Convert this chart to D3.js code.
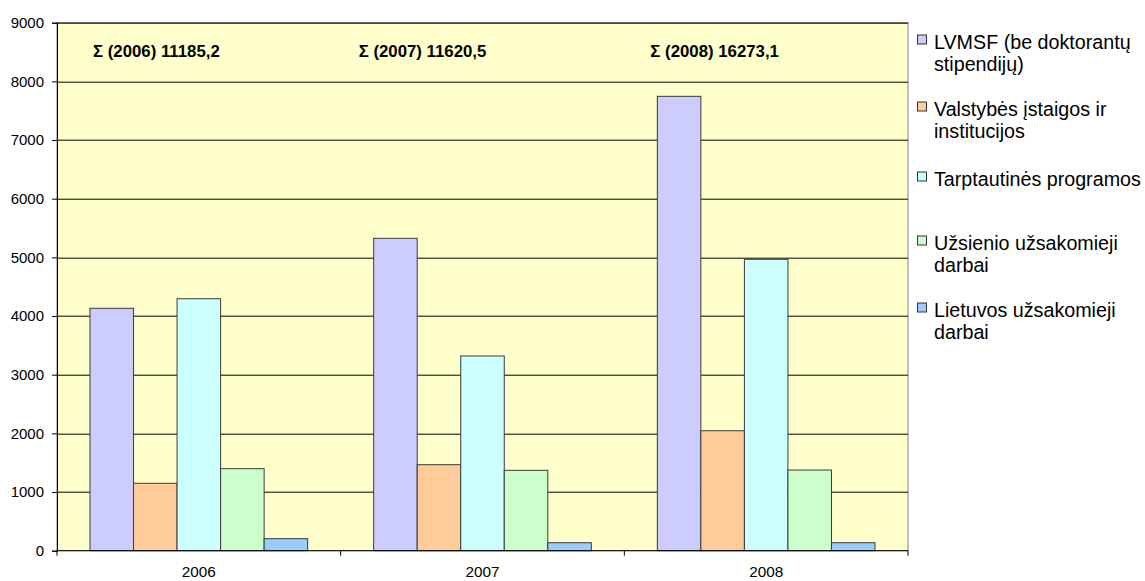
<!DOCTYPE html>
<html>
<head>
<meta charset="utf-8">
<script src="https://cdn.jsdelivr.net/npm/d3@7"></script>
<style>
  body { margin: 0; background: #fff; }
  text { font-family: Arial, "Liberation Sans", sans-serif; fill: #000; }
</style>
</head>
<body>
<div id="chart"></div>
<script>
// data
var years = ["2006", "2007", "2008"];
var seriesNames = ["LVMSF (be doktorantų stipendijų)", "Valstybės įstaigos ir institucijos",
    "Tarptautinės programos", "Užsienio užsakomieji darbai", "Lietuvos užsakomieji darbai"];
var lvmsf = [4132, 5325, 7745];
var valstybes = [1149, 1466, 2045];
var tarptautines = [4295, 3319, 4967];
var uzsienio = [1398, 1370, 1375];
var lietuvos = [205, 136, 136];
var totals = ["11185,2", "11620,5", "16273,1"];
var yTicks = [0, 1000, 2000, 3000, 4000, 5000, 6000, 7000, 8000, 9000];
var legendLines = [["LVMSF (be doktorantų", "stipendijų)"], ["Valstybės įstaigos ir", "institucijos"],
    ["Tarptautinės programos"], ["Užsienio užsakomieji", "darbai"], ["Lietuvos užsakomieji", "darbai"]];

var colors = ["#CCCCFF", "#FFCC99", "#CCFFFF", "#CCFFCC", "#99CCFF"];
var values = [lvmsf, valstybes, tarptautines, uzsienio, lietuvos];

function drawChart(){
    var margin = {top: 22.7, left: 57};
    var width = 851;
    var height = 528;

    var svg = d3.select("#chart").append("svg")
        .attr("width", 1145)
        .attr("height", 581);

    var g = svg.append("g")
        .attr("transform", "translate(" + margin.left + "," + margin.top + ")");

    var xScale = d3.scaleBand()
        .domain(years)
        .range([0, width])
        .padding(0);

    var xInner = d3.scaleBand()
        .domain(d3.range(seriesNames.length))
        .range([33, xScale.bandwidth() - 33])
        .padding(0);

    var yScale = d3.scaleLinear()
        .domain([0, 9000])
        .range([height, 0]);

    // plot background
    g.append("rect")
        .attr("width", width)
        .attr("height", height)
        .attr("fill", "#FFFFCC")
        .attr("stroke", "#808080")
        .attr("stroke-width", 1);

    // gridlines
    g.append("g").selectAll("line")
        .data(yTicks.slice(1))
        .enter().append("line")
        .attr("x1", 0)
        .attr("x2", width)
        .attr("y1", function(d){ return Math.round(yScale(d)) + 0.5; })
        .attr("y2", function(d){ return Math.round(yScale(d)) + 0.5; })
        .attr("stroke", "#000")
        .attr("stroke-width", 1);

    // bars
    var rows = [];
    years.forEach(function(y, i){
        values.forEach(function(s, j){
            rows.push({year: y, k: j, v: s[i]});
        });
    });

    g.append("g").selectAll("rect")
        .data(rows)
        .enter().append("rect")
        .attr("x", function(d){ return xScale(d.year) + xInner(d.k); })
        .attr("y", function(d){ return yScale(d.v); })
        .attr("width", xInner.bandwidth())
        .attr("height", function(d){ return height - yScale(d.v); })
        .attr("fill", function(d){ return colors[d.k]; })
        .attr("stroke", "#3a3a3a")
        .attr("stroke-width", 1);

    // y axis
    var yAxis = g.append("g")
        .call(d3.axisLeft(yScale).tickValues(yTicks).tickSize(5).tickPadding(8).tickFormat(d3.format("d")));
    yAxis.select(".domain").attr("stroke", "#000");
    yAxis.selectAll("text").style("font-size", "15px");

    // x axis with ticks at category boundaries
    var xAxis = g.append("g")
        .attr("transform", "translate(0," + height + ")");
    xAxis.append("line")
        .attr("x1", 0).attr("x2", width)
        .attr("stroke", "#000");
    xAxis.selectAll(".tk")
        .data(years.concat(["end"]))
        .enter().append("line")
        .attr("class", "tk")
        .attr("x1", function(d, i){ return i * xScale.bandwidth(); })
        .attr("x2", function(d, i){ return i * xScale.bandwidth(); })
        .attr("y1", 0).attr("y2", 5)
        .attr("stroke", "#000");
    xAxis.selectAll(".lbl")
        .data(years)
        .enter().append("text")
        .attr("class", "lbl")
        .attr("x", function(d){ return xScale(d) + xScale.bandwidth() / 2; })
        .attr("y", 26.5)
        .style("text-anchor", "middle")
        .style("font-size", "15.3px")
        .text(function(d){ return d; });

    // sum annotations
    var labelDx = [36, 18, 26];
    g.selectAll(".sum")
        .data(years)
        .enter().append("text")
        .attr("class", "sum")
        .attr("x", function(d, i){ return xScale(d) + labelDx[i]; })
        .attr("y", 34.5)
        .style("font-size", "16.8px")
        .style("font-weight", "bold")
        .text(function(d, i){ return "Σ (" + d + ") " + totals[i]; });

    // legend
    var legend = svg.append("g").attr("transform", "translate(916,0)");
    var slotTop = 48.5;
    var slotStep = 67;
    var lineH = 22.5;
    legendLines.forEach(function(lines, i){
        var base = slotTop + i * slotStep + (lines.length === 1 ? 3 : 0);
        legend.append("rect")
            .attr("x", 1.5)
            .attr("y", base - 13.5)
            .attr("width", 9)
            .attr("height", 9)
            .attr("fill", colors[i])
            .attr("stroke", "#333")
            .attr("stroke-width", 1);
        lines.forEach(function(t, k){
            legend.append("text")
                .attr("x", 18)
                .attr("y", base + k * lineH)
                .style("font-size", "19.7px")
                .text(t);
        });
    });
}

drawChart();
</script>
</body>
</html>
